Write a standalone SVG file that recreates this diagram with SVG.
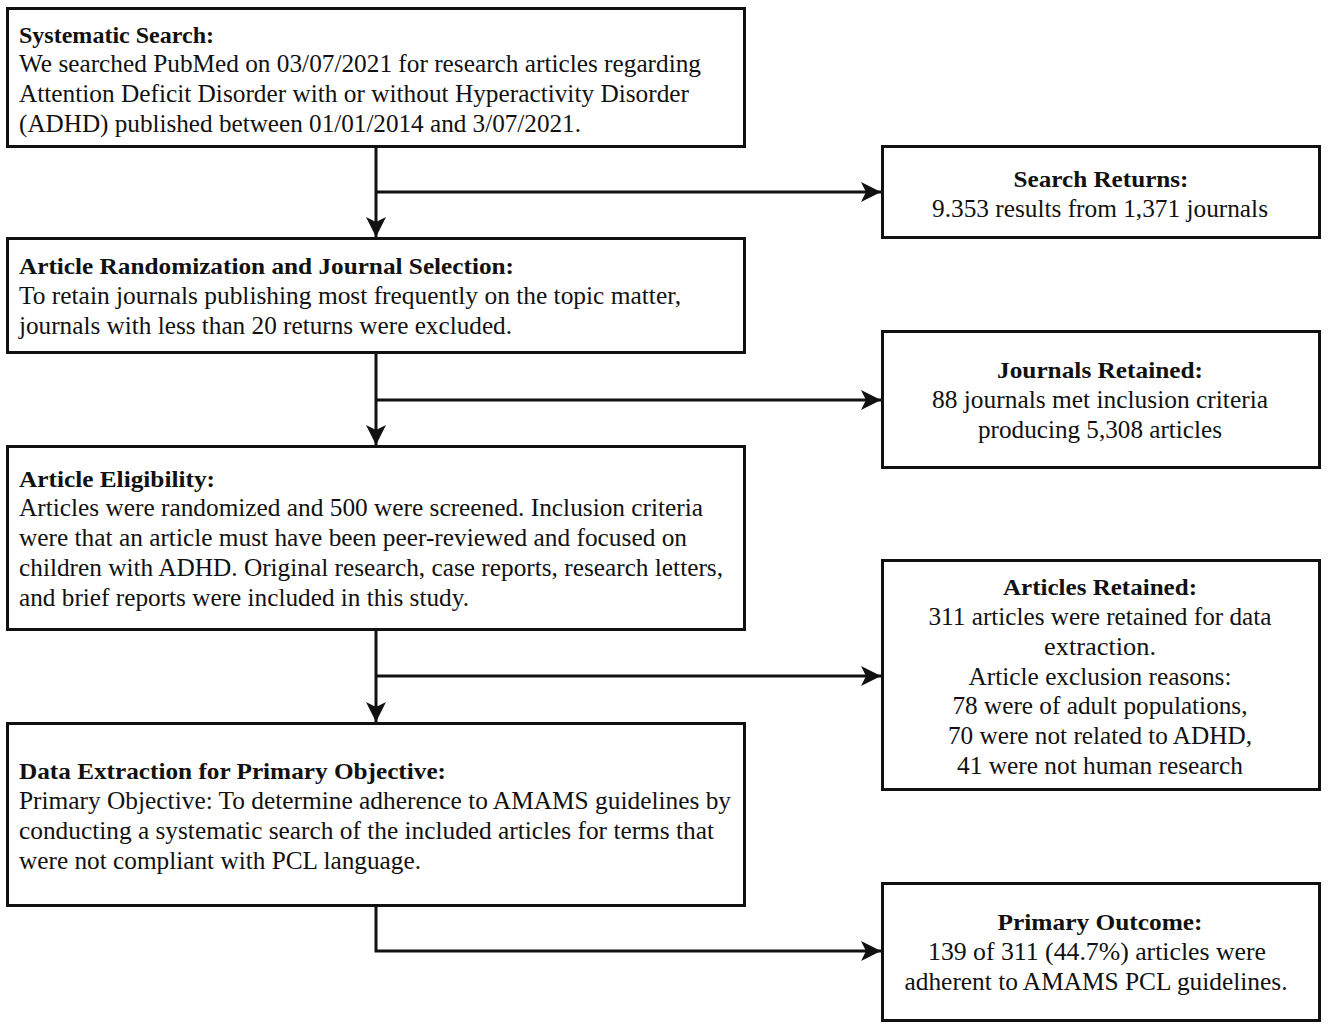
<svg xmlns="http://www.w3.org/2000/svg" width="1328" height="1029" viewBox="0 0 1328 1029">
<style>
.box{fill:#fff;stroke:#111;stroke-width:3}
.t{font-family:"Liberation Serif","Times New Roman",serif;font-size:25px;fill:#111}
.b{font-weight:bold;font-size:24px}
.c{text-anchor:middle}
.ln{fill:none;stroke:#111;stroke-width:3}
</style>
<defs>
<marker id="ah" viewBox="0 0 20 20" refX="20" refY="10" markerWidth="20" markerHeight="20" markerUnits="userSpaceOnUse" orient="auto">
<path d="M0,0 L20,10 L0,20 L5,10 Z" fill="#111"/>
</marker>
</defs>
<rect width="1328" height="1029" fill="#fff"/>
<g id="connectors">
<line class="ln" x1="376" y1="147" x2="376" y2="237" marker-end="url(#ah)"/>
<line class="ln" x1="376" y1="192" x2="881" y2="192" marker-end="url(#ah)"/>
<line class="ln" x1="376" y1="353" x2="376" y2="445" marker-end="url(#ah)"/>
<line class="ln" x1="376" y1="400" x2="881" y2="400" marker-end="url(#ah)"/>
<line class="ln" x1="376" y1="630" x2="376" y2="722" marker-end="url(#ah)"/>
<line class="ln" x1="376" y1="676" x2="881" y2="676" marker-end="url(#ah)"/>
<polyline class="ln" points="376,906 376,951 881,951" marker-end="url(#ah)"/>
</g>
<g id="systematic-search">
<rect class="box" x="7.5" y="8.5" width="737" height="138"/>
<text class="t b" x="19" y="43" textLength="195" lengthAdjust="spacingAndGlyphs">Systematic Search:</text>
<text class="t" x="19" y="72" textLength="682" lengthAdjust="spacingAndGlyphs">We searched PubMed on 03/07/2021 for research articles regarding</text>
<text class="t" x="19" y="102" textLength="670" lengthAdjust="spacingAndGlyphs">Attention Deficit Disorder with or without Hyperactivity Disorder</text>
<text class="t" x="19" y="132" textLength="562" lengthAdjust="spacingAndGlyphs">(ADHD) published between 01/01/2014 and 3/07/2021.</text>
</g>
<g id="search-returns">
<rect class="box" x="882.5" y="146.5" width="437" height="91"/>
<text class="t b c" x="1101" y="187" textLength="175" lengthAdjust="spacingAndGlyphs">Search Returns:</text>
<text class="t c" x="1100" y="217" textLength="336" lengthAdjust="spacingAndGlyphs">9.353 results from 1,371 journals</text>
</g>
<g id="article-randomization">
<rect class="box" x="7.5" y="238.5" width="737" height="114"/>
<text class="t b" x="19" y="274" textLength="495" lengthAdjust="spacingAndGlyphs">Article Randomization and Journal Selection:</text>
<text class="t" x="19" y="304" textLength="662" lengthAdjust="spacingAndGlyphs">To retain journals publishing most frequently on the topic matter,</text>
<text class="t" x="19" y="334" textLength="493" lengthAdjust="spacingAndGlyphs">journals with less than 20 returns were excluded.</text>
</g>
<g id="journals-retained">
<rect class="box" x="882.5" y="331.5" width="437" height="136"/>
<text class="t b c" x="1100" y="378" textLength="206" lengthAdjust="spacingAndGlyphs">Journals Retained:</text>
<text class="t c" x="1100" y="408" textLength="336" lengthAdjust="spacingAndGlyphs">88 journals met inclusion criteria</text>
<text class="t c" x="1100" y="438" textLength="244" lengthAdjust="spacingAndGlyphs">producing 5,308 articles</text>
</g>
<g id="article-eligibility">
<rect class="box" x="7.5" y="446.5" width="737" height="183"/>
<text class="t b" x="19" y="487" textLength="196" lengthAdjust="spacingAndGlyphs">Article Eligibility:</text>
<text class="t" x="19" y="516" textLength="684" lengthAdjust="spacingAndGlyphs">Articles were randomized and 500 were screened. Inclusion criteria</text>
<text class="t" x="19" y="546" textLength="668" lengthAdjust="spacingAndGlyphs">were that an article must have been peer-reviewed and focused on</text>
<text class="t" x="19" y="576" textLength="704" lengthAdjust="spacingAndGlyphs">children with ADHD. Original research, case reports, research letters,</text>
<text class="t" x="19" y="606" textLength="450" lengthAdjust="spacingAndGlyphs">and brief reports were included in this study.</text>
</g>
<g id="articles-retained">
<rect class="box" x="882.5" y="560.5" width="437" height="229"/>
<text class="t b c" x="1100" y="595" textLength="194" lengthAdjust="spacingAndGlyphs">Articles Retained:</text>
<text class="t c" x="1100" y="625" textLength="343" lengthAdjust="spacingAndGlyphs">311 articles were retained for data</text>
<text class="t c" x="1100" y="655" textLength="112" lengthAdjust="spacingAndGlyphs">extraction.</text>
<text class="t c" x="1100" y="685" textLength="263" lengthAdjust="spacingAndGlyphs">Article exclusion reasons:</text>
<text class="t c" x="1100" y="714" textLength="295" lengthAdjust="spacingAndGlyphs">78 were of adult populations,</text>
<text class="t c" x="1100" y="744" textLength="304" lengthAdjust="spacingAndGlyphs">70 were not related to ADHD,</text>
<text class="t c" x="1100" y="774" textLength="286" lengthAdjust="spacingAndGlyphs">41 were not human research</text>
</g>
<g id="data-extraction">
<rect class="box" x="7.5" y="723.5" width="737" height="182"/>
<text class="t b" x="19" y="779" textLength="427" lengthAdjust="spacingAndGlyphs">Data Extraction for Primary Objective:</text>
<text class="t" x="19" y="809" textLength="712" lengthAdjust="spacingAndGlyphs">Primary Objective: To determine adherence to AMAMS guidelines by</text>
<text class="t" x="19" y="839" textLength="695" lengthAdjust="spacingAndGlyphs">conducting a systematic search of the included articles for terms that</text>
<text class="t" x="19" y="869" textLength="402" lengthAdjust="spacingAndGlyphs">were not compliant with PCL language.</text>
</g>
<g id="primary-outcome">
<rect class="box" x="882.5" y="883.5" width="437" height="137"/>
<text class="t b c" x="1100" y="930" textLength="205" lengthAdjust="spacingAndGlyphs">Primary Outcome:</text>
<text class="t c" x="1097" y="960" textLength="338" lengthAdjust="spacingAndGlyphs">139 of 311 (44.7%) articles were</text>
<text class="t c" x="1096" y="990" textLength="383" lengthAdjust="spacingAndGlyphs">adherent to AMAMS PCL guidelines.</text>
</g>
</svg>
